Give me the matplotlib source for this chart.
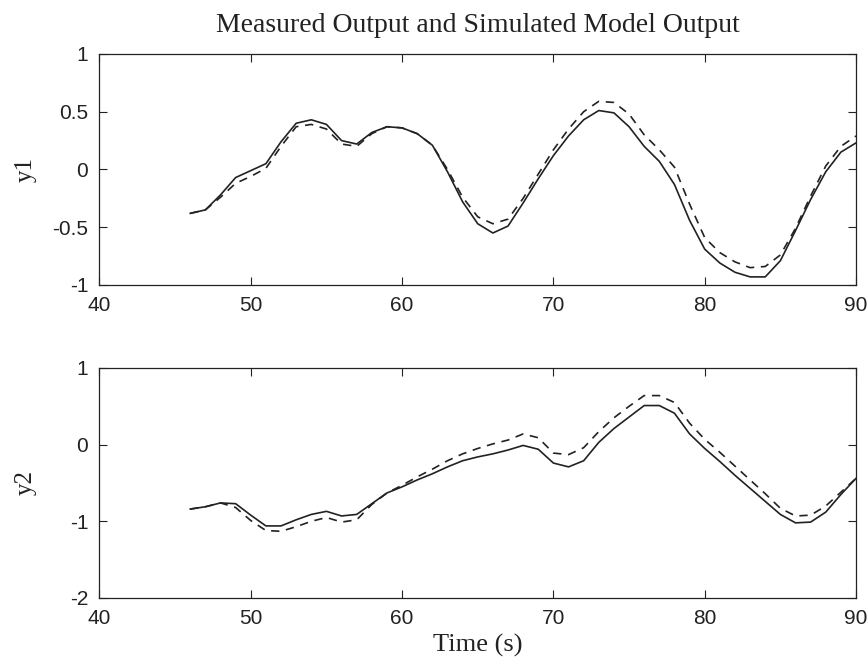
import matplotlib.pyplot as plt

# sample times (s)
t = list(range(46, 91))

# output 1: measured (solid) and simulated (dashed)
y1_meas = [-0.38, -0.35, -0.22, -0.07, -0.01, 0.05, 0.24, 0.40, 0.43, 0.39,
           0.25, 0.22, 0.32, 0.37, 0.36, 0.31, 0.21, -0.02, -0.28, -0.47,
           -0.55, -0.49, -0.29, -0.08, 0.12, 0.29, 0.43, 0.51, 0.49, 0.37,
           0.20, 0.07, -0.13, -0.44, -0.69, -0.81, -0.89, -0.93, -0.93, -0.79,
           -0.53, -0.26, -0.02, 0.15, 0.23]
y1_sim = [-0.38, -0.35, -0.24, -0.12, -0.06, 0.01, 0.20, 0.37, 0.39, 0.35,
          0.22, 0.20, 0.31, 0.37, 0.36, 0.31, 0.21, 0.00, -0.24, -0.41,
          -0.47, -0.43, -0.25, -0.04, 0.17, 0.35, 0.50, 0.59, 0.58, 0.48,
          0.30, 0.17, 0.02, -0.30, -0.59, -0.72, -0.80, -0.85, -0.84, -0.74,
          -0.51, -0.23, 0.03, 0.20, 0.29]

# output 2
y2_meas = [-0.84, -0.81, -0.76, -0.77, -0.92, -1.06, -1.06, -0.98, -0.91, -0.87,
           -0.93, -0.91, -0.77, -0.63, -0.55, -0.46, -0.38, -0.29, -0.21, -0.16,
           -0.12, -0.07, -0.01, -0.06, -0.24, -0.29, -0.21, 0.03, 0.21, 0.36,
           0.51, 0.51, 0.41, 0.14, -0.05, -0.22, -0.40, -0.57, -0.74, -0.91,
           -1.02, -1.01, -0.88, -0.65, -0.44]
y2_sim = [-0.84, -0.81, -0.76, -0.82, -0.99, -1.12, -1.13, -1.07, -1.00, -0.95,
          -1.01, -0.98, -0.78, -0.63, -0.53, -0.42, -0.32, -0.21, -0.12, -0.05,
          0.01, 0.06, 0.14, 0.09, -0.11, -0.13, -0.04, 0.17, 0.35, 0.50,
          0.64, 0.64, 0.55, 0.28, 0.07, -0.10, -0.28, -0.46, -0.64, -0.83,
          -0.93, -0.92, -0.80, -0.62, -0.44]

x_ticks = [40, 50, 60, 70, 80, 90]
y1_ticks = [-1, -0.5, 0, 0.5, 1]
y1_labels = ['-1', '-0.5', '0', '0.5', '1']
y2_ticks = [-2, -1, 0, 1]

serif = 'Liberation Serif'
sans = 'Liberation Sans'
ink = '#222222'

fig = plt.figure(figsize=(8.68, 6.71), dpi=100)
ax1 = fig.add_axes([0.1146, 0.5753, 0.8716, 0.3443])
ax2 = fig.add_axes([0.1146, 0.1088, 0.8716, 0.3428])

for ax, meas, sim, yt, yl, ylab in [
        (ax1, y1_meas, y1_sim, y1_ticks, y1_labels, 'y1'),
        (ax2, y2_meas, y2_sim, y2_ticks, [str(v) for v in y2_ticks], 'y2')]:
    ax.plot(t, meas, color=ink, lw=1.2, linestyle='-')
    ax.plot(t, sim, color=ink, lw=1.2, linestyle=(0, (5, 4)))
    ax.set_xlim(40, 90)
    ax.set_ylim(yt[0], yt[-1])
    ax.set_xticks(x_ticks)
    ax.set_xticklabels([str(v) for v in x_ticks], fontfamily=sans, fontsize=15)
    ax.set_yticks(yt)
    ax.set_yticklabels(yl, fontfamily=sans, fontsize=15)
    ax.tick_params(direction='in', top=True, right=True, length=6,
                   width=0.8, colors=ink, pad=8)
    for s in ax.spines.values():
        s.set_color(ink)
        s.set_linewidth(0.9)
    ax.set_ylabel(ylab, fontfamily=serif, fontsize=18, color=ink)
    ax.yaxis.set_label_coords(-0.083, 0.5)

ax1.set_title('Measured Output and Simulated Model Output',
              fontfamily=serif, fontsize=20, color=ink, pad=16)
ax2.set_xlabel('Time (s)', fontfamily=serif, fontsize=19, color=ink, labelpad=4)

fig.savefig('out.png', dpi=100)
